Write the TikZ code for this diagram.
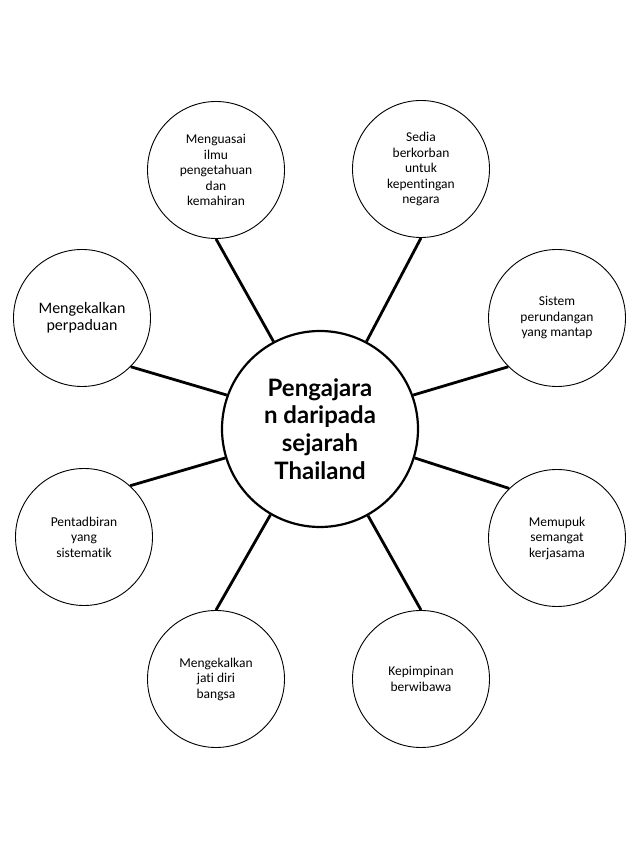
\documentclass[tikz,border=0pt]{standalone}
\usepackage{fontspec}
\setmainfont{Carlito}[Ligatures={NoCommon}]
\newfontfamily\hubfont{Lato}
\usepackage{tikz}
\usetikzlibrary{positioning}
\tikzset{
    hubnode/.style={
        circle,
        draw,
        line width=2.2pt,
        fill=white,
        minimum size=196pt,
        align=center,
        font=\hubfont\bfseries\fontsize{24}{27.7}\selectfont
    },
    idea/.style={
        circle,
        draw,
        line width=0.9pt,
        fill=white,
        minimum size=137pt,
        align=center,
        font=\fontsize{13.5}{15.5}\selectfont
    },
    spoke/.style={
        line width=2.8pt
    }
}
\begin{document}
\begin{tikzpicture}[node distance=1pt, on grid]
    \useasboundingbox (0,0) rectangle (638pt,851pt);
    % pusat
    \node[hubnode] (H) at (320pt,422pt) {Pengajara\\n daripada\\sejarah\\Thailand};

    % bulatan luar
    \node[idea, above left=259pt and 104pt of H] (ilmu) {Menguasai\\ilmu\\pengetahuan\\dan\\kemahiran};
    \node[idea, above right=260pt and 101pt of H] (korban) {Sedia\\berkorban\\untuk\\kepentingan\\negara};
    \node[idea, above left=111pt and 238pt of H, font=\fontsize{16}{17}\selectfont] (padu) {Mengekalkan\\perpaduan};
    \node[idea, above right=111pt and 237pt of H] (undang) {Sistem\\perundangan\\yang mantap};
    \node[idea, below left=108pt and 236pt of H] (tadbir) {Pentadbiran\\yang\\sistematik};
    \node[idea, below right=109pt and 237pt of H] (kerja) {Memupuk\\semangat\\kerjasama};
    \node[idea, below left=250pt and 104pt of H] (jati) {Mengekalkan\\jati diri\\bangsa};
    \node[idea, below right=250pt and 101pt of H] (pimpin) {Kepimpinan\\berwibawa};

    % garis penghubung
    \draw[spoke] (ilmu.south) -- (H.118);
    \draw[spoke] (korban.south) -- (H.62);
    \draw[spoke] (padu.-45) -- (H.160);
    \draw[spoke] (undang.225) -- (H.20);
    \draw[spoke] (tadbir.48) -- (H.197);
    \draw[spoke] (kerja.134) -- (H.-17);
    \draw[spoke] (jati.north) -- (H.240);
    \draw[spoke] (pimpin.north) -- (H.-61);
\end{tikzpicture}
\end{document}
